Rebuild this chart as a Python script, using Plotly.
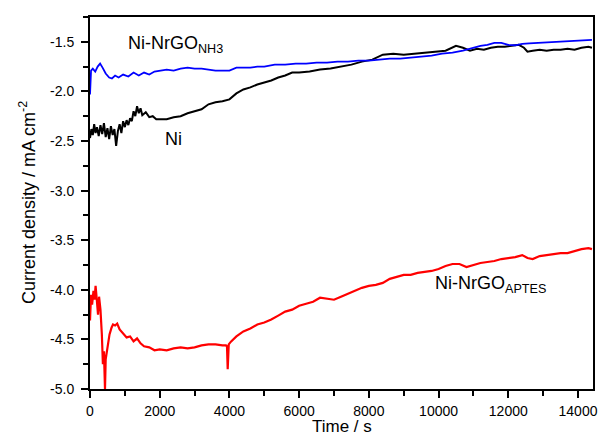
import plotly.graph_objects as go

# Chronoamperometry: current density vs time for three electrodes
t_nh3 = [0, 30, 80, 150, 220, 290, 360, 450, 550, 630, 720, 820, 950, 1100, 1250,
         1400, 1550, 1700, 1850, 2000, 2200, 2400, 2600, 2800, 3000, 3200, 3400,
         3600, 3800, 4000, 4200, 4400, 4600, 4800, 5000, 5300, 5600, 5900, 6200,
         6500, 6800, 7100, 7400, 7700, 8000, 8300, 8600, 8900, 9200, 9500, 9800,
         10100, 10400, 10700, 11000, 11200, 11400, 11600, 11800, 12000, 12200,
         12400, 12600, 12900, 13200, 13500, 13800, 14100, 14400]
j_nh3 = [-2.03, -1.79, -1.77, -1.80, -1.75, -1.72, -1.76, -1.82, -1.86, -1.87,
         -1.84, -1.86, -1.83, -1.85, -1.81, -1.84, -1.81, -1.83, -1.80, -1.79,
         -1.78, -1.79, -1.77, -1.76, -1.77, -1.77, -1.78, -1.79, -1.79, -1.79,
         -1.76, -1.76, -1.76, -1.75, -1.75, -1.73, -1.73, -1.72, -1.72, -1.71,
         -1.71, -1.70, -1.70, -1.69, -1.69, -1.68, -1.67, -1.67, -1.66, -1.65,
         -1.64, -1.62, -1.61, -1.59, -1.56, -1.54, -1.53, -1.51, -1.51, -1.53,
         -1.535, -1.52, -1.515, -1.51, -1.505, -1.50, -1.49, -1.49, -1.48]

t_ni = [0, 40, 80, 120, 160, 200, 250, 300, 350, 400, 450, 500, 550, 600, 650,
        700, 750, 800, 850, 900, 950, 1000, 1050, 1100, 1150, 1200, 1250, 1300,
        1350, 1400, 1450, 1500, 1600, 1700, 1800, 1900, 2000, 2200, 2400, 2600,
        2800, 3000, 3200, 3400, 3600, 3800, 4000, 4200, 4400, 4600, 4800, 5000,
        5200, 5400, 5600, 5800, 6000, 6300, 6600, 6900, 7200, 7500, 7800, 8100,
        8400, 8700, 9000, 9300, 9600, 9900, 10200, 10500, 10700, 10900, 11100,
        11300, 11500, 11700, 11900, 12100, 12300, 12450, 12550, 12700, 12900,
        13100, 13300, 13500, 13700, 13900, 14100, 14300, 14400]
j_ni = [-2.47, -2.38, -2.44, -2.33, -2.42, -2.36, -2.45, -2.34, -2.43, -2.32,
        -2.46, -2.37, -2.48, -2.35, -2.44, -2.38, -2.55, -2.40, -2.33, -2.42,
        -2.30, -2.36, -2.29, -2.34, -2.27, -2.30, -2.20, -2.25, -2.15, -2.22,
        -2.17, -2.24, -2.21, -2.26, -2.25, -2.28, -2.28, -2.28, -2.26, -2.25,
        -2.22, -2.20, -2.18, -2.13, -2.11, -2.10, -2.08, -2.02, -1.98, -1.96,
        -1.93, -1.91, -1.89, -1.86, -1.84, -1.81, -1.81, -1.80, -1.78, -1.77,
        -1.75, -1.73, -1.70, -1.68, -1.63, -1.62, -1.63, -1.62, -1.61, -1.60,
        -1.59, -1.54, -1.56, -1.59, -1.57, -1.58, -1.56, -1.55, -1.55, -1.54,
        -1.53, -1.56, -1.60, -1.59, -1.58, -1.59, -1.58, -1.58, -1.57, -1.58,
        -1.56, -1.55, -1.56]

t_aptes = [0, 30, 60, 100, 130, 160, 200, 230, 260, 300, 340, 370, 400, 420, 430,
           450, 480, 510, 560, 620, 660, 720, 780, 850, 950, 1050, 1150, 1250,
           1350, 1450, 1550, 1700, 1850, 2000, 2200, 2400, 2600, 2800, 3000, 3200,
           3400, 3600, 3800, 3900, 3930, 3950, 3980, 4050, 4200, 4400, 4600, 4800,
           5000, 5200, 5400, 5600, 5800, 6000, 6200, 6400, 6600, 6800, 7000, 7200,
           7400, 7600, 7800, 8000, 8200, 8400, 8600, 8800, 9000, 9200, 9400, 9600,
           9800, 10000, 10200, 10400, 10600, 10800, 11000, 11200, 11400, 11600,
           11800, 12000, 12200, 12400, 12550, 12700, 12900, 13100, 13300, 13500,
           13700, 13900, 14100, 14300, 14400]
j_aptes = [-4.31, -4.05, -4.15, -4.01, -4.10, -3.96, -4.12, -4.25, -4.07, -4.20,
           -4.45, -4.75, -4.62, -4.85, -5.00, -4.70, -4.62, -4.55, -4.45, -4.38,
           -4.35, -4.36, -4.34, -4.40, -4.44, -4.48, -4.47, -4.52, -4.49, -4.54,
           -4.57, -4.58, -4.61, -4.60, -4.61, -4.59, -4.58, -4.59, -4.58, -4.56,
           -4.55, -4.55, -4.56, -4.56, -4.57, -4.80, -4.55, -4.52, -4.47, -4.42,
           -4.39, -4.35, -4.33, -4.30, -4.26, -4.22, -4.20, -4.16, -4.14, -4.12,
           -4.08, -4.09, -4.10, -4.07, -4.04, -4.01, -3.98, -3.96, -3.95, -3.93,
           -3.89, -3.87, -3.85, -3.85, -3.83, -3.82, -3.81, -3.79, -3.76, -3.74,
           -3.74, -3.77, -3.75, -3.73, -3.72, -3.71, -3.69, -3.68, -3.67, -3.65,
           -3.68, -3.69, -3.66, -3.65, -3.64, -3.63, -3.63, -3.61, -3.59, -3.58,
           -3.59]

assert len(t_nh3) == len(j_nh3)
assert len(t_ni) == len(j_ni)
assert len(t_aptes) == len(j_aptes)

x_tick_vals = [0, 2000, 4000, 6000, 8000, 10000, 12000, 14000]
x_tick_text = ["0", "2000", "4000", "6000", "8000", "10000", "12000", "14000"]
y_tick_vals = [-5.0, -4.5, -4.0, -3.5, -3.0, -2.5, -2.0, -1.5]
y_tick_text = ["-5.0", "-4.5", "-4.0", "-3.5", "-3.0", "-2.5", "-2.0", "-1.5"]

FONT = "Liberation Sans, Arial, sans-serif"

fig = go.Figure()
fig.add_trace(go.Scatter(x=t_ni, y=j_ni, mode="lines",
                         line=dict(color="#000000", width=2)))
fig.add_trace(go.Scatter(x=t_nh3, y=j_nh3, mode="lines",
                         line=dict(color="#0000ff", width=1.8)))
fig.add_trace(go.Scatter(x=t_aptes, y=j_aptes, mode="lines",
                         line=dict(color="#ff0000", width=2.2)))

axis_common = dict(
    showgrid=False, zeroline=False, showline=True, linecolor="black",
    linewidth=2, mirror=True, ticks="outside", ticklen=7, tickwidth=1.5,
    tickcolor="black", tickfont=dict(family=FONT, size=14, color="black"),
)

fig.update_xaxes(range=[0, 14430], tickvals=x_tick_vals, ticktext=x_tick_text,
                 minor=dict(ticks="outside", dtick=1000, tick0=0, ticklen=5,
                            tickwidth=1.5, tickcolor="black"),
                 ticklabelstandoff=1, **axis_common)
fig.update_yaxes(range=[-5.0, -1.25], tickvals=y_tick_vals, ticktext=y_tick_text,
                 minor=dict(ticks="outside", dtick=0.25, tick0=-5.0, ticklen=5,
                            tickwidth=1.5, tickcolor="black"),
                 ticklabelstandoff=4, **axis_common)

label_font = dict(family=FONT, size=18, color="black")
annotations = [
    dict(x=1040, y=-1.49, xref="x", yref="y", xanchor="left", yanchor="middle",
         text="Ni-NrGO<sub>NH3</sub>", showarrow=False, font=label_font, yshift=-4),
    dict(x=2080, y=-2.48, xref="x", yref="y", xanchor="left", yanchor="middle",
         text="Ni", showarrow=False, font=label_font),
    dict(x=9850, y=-3.91, xref="x", yref="y", xanchor="left", yanchor="middle",
         text="Ni-NrGO<sub>APTES</sub>", showarrow=False, font=label_font, yshift=-4),
    dict(x=0.5, y=0, xref="paper", yref="paper", xanchor="center", yanchor="middle",
         yshift=-37, text="Time / s", showarrow=False,
         font=dict(family=FONT, size=17, color="black")),
    dict(x=0, y=0.5, xref="paper", yref="paper", xanchor="center", yanchor="middle",
         xshift=-63, textangle=-90, text="Current density / mA cm<sup>-2</sup>",
         showarrow=False, font=label_font),
]

fig.update_layout(
    width=603, height=435,
    margin=dict(l=90, r=10, t=17, b=46, autoexpand=False),
    paper_bgcolor="white", plot_bgcolor="white",
    showlegend=False, annotations=annotations,
)

fig.write_html("out.html", config={"displayModeBar": False})
